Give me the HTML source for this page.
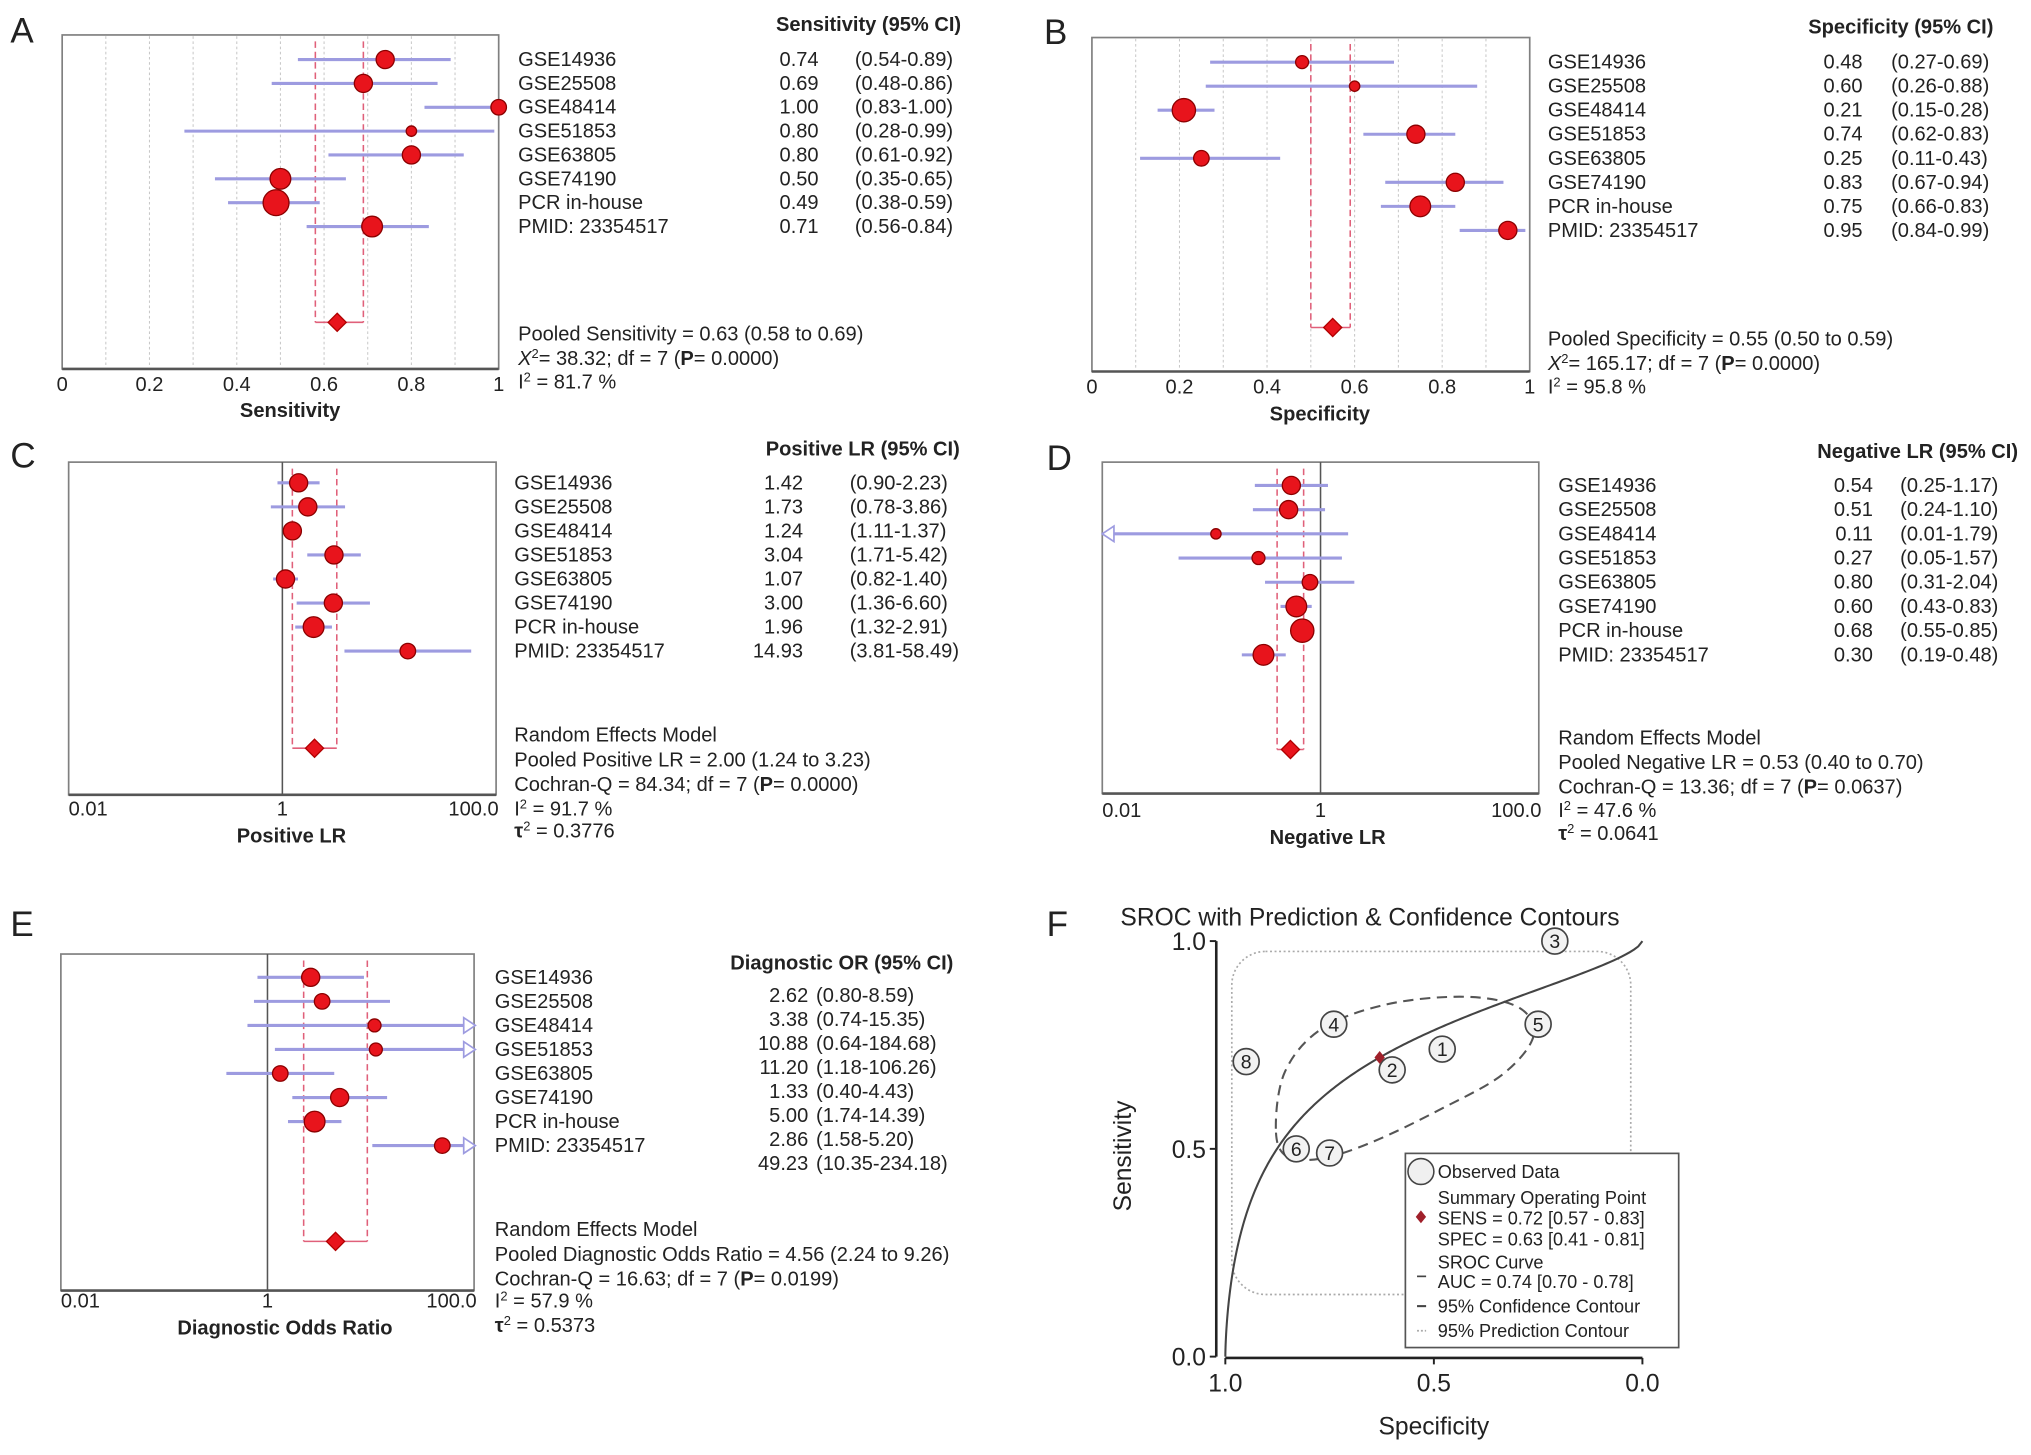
<!DOCTYPE html>
<html><head><meta charset="utf-8"><style>
html,body{margin:0;padding:0;background:#fff;}
svg{display:block;}
text{font-family:"Liberation Sans",Arial,sans-serif;fill:#222;}
</style></head><body>
<svg id="fig" xmlns="http://www.w3.org/2000/svg" width="2031" height="1455" viewBox="0 0 1568 1124" preserveAspectRatio="none">
<rect x="0" y="0" width="1568" height="1124" fill="#fff"/>
</svg>
<script>
// ---------- DATA ----------
const studies = ["GSE14936","GSE25508","GSE48414","GSE51853","GSE63805","GSE74190","PCR in-house","PMID: 23354517"];
const sensEst = [0.74,0.69,1.00,0.80,0.80,0.50,0.49,0.71];
const sensLo  = [0.54,0.48,0.83,0.28,0.61,0.35,0.38,0.56];
const sensHi  = [0.89,0.86,1.00,0.99,0.92,0.65,0.59,0.84];
const sensWeight = [7,7,6,4,7,8,10,8];
const sensPooled = [0.63,0.58,0.69];
const specEst = [0.48,0.60,0.21,0.74,0.25,0.83,0.75,0.95];
const specLo  = [0.27,0.26,0.15,0.62,0.11,0.67,0.66,0.84];
const specHi  = [0.69,0.88,0.28,0.83,0.43,0.94,0.83,0.99];
const specWeight = [5,4,9,7,6,7,8,7];
const specPooled = [0.55,0.50,0.59];
const plrEst = [1.42,1.73,1.24,3.04,1.07,3.00,1.96,14.93];
const plrLo  = [0.90,0.78,1.11,1.71,0.82,1.36,1.32,3.81];
const plrHi  = [2.23,3.86,1.37,5.42,1.40,6.60,2.91,58.49];
const plrWeight = [7,7,7,7,7,7,8,6];
const plrPooled = [2.00,1.24,3.23];
const nlrEst = [0.54,0.51,0.11,0.27,0.80,0.60,0.68,0.30];
const nlrLo  = [0.25,0.24,0.01,0.05,0.31,0.43,0.55,0.19];
const nlrHi  = [1.17,1.10,1.79,1.57,2.04,0.83,0.85,0.48];
const nlrWeight = [7,7,4,5,6,8,9,8];
const nlrPooled = [0.53,0.40,0.70];
const dorEst = [2.62,3.38,10.88,11.20,1.33,5.00,2.86,49.23];
const dorLo  = [0.80,0.74,0.64,1.18,0.40,1.74,1.58,10.35];
const dorHi  = [8.59,15.35,184.68,106.26,4.43,14.39,5.20,234.18];
const dorWeight = [7,6,5,5,6,7,8,6];
const dorPooled = [4.56,2.24,9.26];
const linTicks = [0,0.2,0.4,0.6,0.8,1];
const linTickLabels = ["0","0.2","0.4","0.6","0.8","1"];
const logTicks = [0.01,1,100];
const logTickLabels = ["0.01","1","100.0"];
// SROC
const srocA = 1.297, srocB = 0.663;
const summarySpec = 0.63, summarySens = 0.72;
const srocTicks = [0,0.5,1];
const srocTickLabels = ["0.0","0.5","1.0"];

// ---------- HELPERS ----------
const NS="http://www.w3.org/2000/svg";
const svg=document.getElementById('fig');
function mk(tag,attrs,parent){const e=document.createElementNS(NS,tag);for(const k in attrs)e.setAttribute(k,attrs[k]);(parent||svg).appendChild(e);return e;}
function txt(str,x,y,opt,parent){opt=opt||{};const e=mk('text',{x:x,y:y,'font-size':opt.size||15.5,'text-anchor':opt.anchor||'start','font-weight':opt.bold?'bold':'normal'},parent);if(opt.fill)e.setAttribute('fill',opt.fill);e.textContent=str;return e;}
function richTxt(parts,x,y,size,parent){const e=mk('text',{x:x,y:y,'font-size':size||15.5},parent);parts.forEach(p=>{const t=mk('tspan',p.a||{},e);t.textContent=p.t;});return e;}

function forest(p){
  const g=mk('g',{});
  
  
  const X=v=>{ if(p.log){const l0=Math.log10(p.min),l1=Math.log10(p.max);return p.x0+(Math.log10(v)-l0)/(l1-l0)*(p.x1-p.x0);} return p.x0+(v-p.min)/(p.max-p.min)*(p.x1-p.x0); };
  const Y=i=>p.rowY0+i*p.dy;
  const L=txt(p.letter,p.lx,p.ly,{size:27},g);
  
  
  const fr=mk('rect',{x:p.x0,y:p.top,width:p.x1-p.x0,height:p.bot-p.top,fill:'#fff',stroke:'#808080','stroke-width':1.3},g);
  
  
  const ax=mk('line',{x1:p.x0,x2:p.x1,y1:p.bot,y2:p.bot,stroke:'#555','stroke-width':2},g);
  
  
  if(p.grid){for(let k=1;k<10;k++){const v=p.min+k*(p.max-p.min)/10;const gl=mk('line',{x1:X(v),x2:X(v),y1:p.top+1,y2:p.bot-1,stroke:'#c8c8c8','stroke-width':0.8,'stroke-dasharray':'2,2'},g);
    
    }}
  if(p.log){const rl=mk('line',{x1:X(1),x2:X(1),y1:p.top,y2:p.bot,stroke:'#555','stroke-width':1.2},g);
    
    }
  const pooled=p.pooled;
  [pooled[1],pooled[2]].forEach(v=>{const dl=mk('line',{x1:X(v),x2:X(v),y1:p.top+5,y2:p.poolY,stroke:'#e0607a','stroke-width':1.2,'stroke-dasharray':'5,3'},g);
    
    });
  const br=mk('line',{x1:X(pooled[1]),x2:X(pooled[2]),y1:p.poolY,y2:p.poolY,stroke:'#e0607a','stroke-width':1.2},g);
  
  
  for(let i=0;i<p.est.length;i++){
    const lo=Math.max(p.lo[i],p.min),hi=Math.min(p.hi[i],p.max),y=Y(i);
    const cl=mk('line',{x1:X(lo),x2:X(hi),y1:y,y2:y,stroke:'#9d9be0','stroke-width':2.4},g);
    
    
    if(p.log&&p.hi[i]>p.max){const a=mk('polygon',{points:`${p.x1-8},${y-6} ${p.x1+1},${y} ${p.x1-8},${y+6}`,fill:'#fff',stroke:'#9d9be0','stroke-width':1.3},g);
      
      }
    if(p.log&&p.lo[i]<=p.min){const a=mk('polygon',{points:`${p.x0+9},${y-6} ${p.x0},${y} ${p.x0+9},${y+6}`,fill:'#fff',stroke:'#9d9be0','stroke-width':1.3},g);
      
      }
    const d=mk('circle',{cx:X(p.est[i]),cy:y,r:p.w[i],fill:'#e8141c',stroke:'#8b0000','stroke-width':1},g);
    
    
    const n=txt(studies[i],p.nameX,y+5,{},g);
    
    
    const vy=(p.valY0!==undefined?p.valY0+i*p.dy:y)+5;
    const v=txt(p.est[i].toFixed(2),p.valX,vy,{anchor:'end'},g);
    
    
    const c=txt('('+p.lo[i].toFixed(2)+'-'+p.hi[i].toFixed(2)+')',p.ciX,vy,{},g);
    
    
  }
  const px=X(pooled[0]),py=p.poolY;
  const dm=mk('polygon',{points:`${px},${py-7} ${px+7},${py} ${px},${py+7} ${px-7},${py}`,fill:'#e8141c',stroke:'#b00000','stroke-width':1},g);
  
  
  const h=txt(p.header,p.hdrX,p.hdrY,{anchor:'end',bold:true},g);
  
  
  p.ticks.forEach((t,k)=>{let anchor='middle',x=X(t);
    if(p.log&&k===0){anchor='start';x=p.x0;} if(p.log&&k===p.ticks.length-1){anchor='end';x=p.x1+2;}
    const tl=txt(p.tickLabels[k],x,p.tickY,{anchor:anchor},g);
    
    });
  const at=txt(p.axisTitle,p.titleX,p.titleY,{anchor:'middle',bold:true},g);
  
  
  p.stats.forEach((parts,k)=>{const s=richTxt(parts,p.nameX,p.statsY[k],15.5,g);
    
    });
}
const B={'font-weight':'bold'}, SUP={'baseline-shift':'super','font-size':'10'}, IT={'font-style':'italic'};
function chi(v,pv){return [{t:'X',a:IT},{t:'2',a:SUP},{t:'= '+v+'; df =  7 ('},{t:'P',a:B},{t:'= '+pv+')'}];}
function cq(v,pv){return [{t:'Cochran-Q = '+v+'; df =  7 ('},{t:'P',a:B},{t:'= '+pv+')'}];}
function i2(v){return [{t:'I'},{t:'2',a:SUP},{t:' = '+v+' %'}];}
function tau(v){return [{t:'τ',a:B},{t:'2',a:SUP},{t:' = '+v}];}

forest({name:'sensitivity',letter:'A',lx:8,ly:33,x0:48,x1:385,top:27,bot:285,min:0,max:1,log:false,grid:true,
 rowY0:46,dy:18.43,poolY:249,est:sensEst,lo:sensLo,hi:sensHi,w:sensWeight,pooled:sensPooled,
 nameX:400,valX:632,ciX:660,header:'Sensitivity (95% CI)',hdrX:742,hdrY:24,ticks:linTicks,tickLabels:linTickLabels,tickY:302,
 axisTitle:'Sensitivity',titleX:224,titleY:322,statsY:[263,282,300],
 stats:[[{t:'Pooled Sensitivity = 0.63 (0.58 to 0.69)'}],chi('38.32','0.0000'),i2('81.7')]});
forest({name:'specificity',letter:'B',lx:806,ly:34,x0:843,x1:1181,top:29,bot:287,min:0,max:1,log:false,grid:true,
 rowY0:48,dy:18.57,poolY:253,est:specEst,lo:specLo,hi:specHi,w:specWeight,pooled:specPooled,
 nameX:1195,valX:1438,ciX:1460,header:'Specificity (95% CI)',hdrX:1539,hdrY:26,ticks:linTicks,tickLabels:linTickLabels,tickY:304,
 axisTitle:'Specificity',titleX:1019,titleY:325,statsY:[267,286,304],
 stats:[[{t:'Pooled Specificity = 0.55 (0.50 to 0.59)'}],chi('165.17','0.0000'),i2('95.8')]});
forest({name:'positive-lr',letter:'C',lx:8,ly:361,x0:53,x1:383,top:357,bot:614,min:0.01,max:100,log:true,
 rowY0:373,dy:18.57,poolY:578,est:plrEst,lo:plrLo,hi:plrHi,w:plrWeight,pooled:plrPooled,
 nameX:397,valX:620,ciX:656,header:'Positive LR (95% CI)',hdrX:741,hdrY:352,ticks:logTicks,tickLabels:logTickLabels,tickY:630,
 axisTitle:'Positive LR',titleX:225,titleY:651,statsY:[573,592,611,630,647],
 stats:[[{t:'Random Effects Model'}],[{t:'Pooled Positive LR = 2.00 (1.24 to 3.23)'}],cq('84.34','0.0000'),i2('91.7'),tau('0.3776')]});
forest({name:'negative-lr',letter:'D',lx:808,ly:363,x0:851,x1:1188,top:357,bot:613,min:0.01,max:100,log:true,
 rowY0:375,dy:18.7,poolY:579,est:nlrEst,lo:nlrLo,hi:nlrHi,w:nlrWeight,pooled:nlrPooled,
 nameX:1203,valX:1446,ciX:1467,header:'Negative LR (95% CI)',hdrX:1558,hdrY:354,ticks:logTicks,tickLabels:logTickLabels,tickY:631,
 axisTitle:'Negative LR',titleX:1025,titleY:652,statsY:[575,594,613,631,649],
 stats:[[{t:'Random Effects Model'}],[{t:'Pooled Negative LR = 0.53 (0.40 to 0.70)'}],cq('13.36','0.0637'),i2('47.6'),tau('0.0641')]});
forest({name:'diagnostic-or',letter:'E',lx:8,ly:723,x0:47,x1:366,top:737,bot:997,min:0.01,max:100,log:true,
 rowY0:755,dy:18.57,valY0:769,poolY:959,est:dorEst,lo:dorLo,hi:dorHi,w:dorWeight,pooled:dorPooled,
 nameX:382,valX:624,ciX:630,header:'Diagnostic OR (95% CI)',hdrX:736,hdrY:749,ticks:logTicks,tickLabels:logTickLabels,tickY:1010,
 axisTitle:'Diagnostic Odds Ratio',titleX:220,titleY:1031,statsY:[955,974,993,1010,1029],
 stats:[[{t:'Random Effects Model'}],[{t:'Pooled Diagnostic Odds Ratio = 4.56 (2.24 to 9.26)'}],cq('16.63','0.0199'),i2('57.9'),tau('0.5373')]});

// ---------- SROC (F) ----------
(function(){
  const g=mk('g',{});
  
  
  const xS=s=>946+(1-s)*322;   // specificity axis (reversed)
  const yS=v=>1048-v*321;
  const L=txt('F',808,723,{size:27},g);
  
  
  const t=txt('SROC with Prediction & Confidence Contours',865,715,{size:19,fill:'#24336e'},g);
  
  
  const pc=mk('rect',{x:951,y:735,width:308,height:265,rx:26,ry:26,fill:'none',stroke:'#aaa','stroke-width':1.3,'stroke-dasharray':'1.5,2'},g);
  
  
  // confidence contour (smooth closed shape)
  const cp=[[985,872],[992,828],[1020,795],[1070,776],[1130,770],[1172,778],[1184,800],[1160,830],[1110,858],[1060,882],[1020,895],[993,893]];
  let cd='';const n=cp.length;
  for(let i=0;i<n;i++){const p0=cp[(i-1+n)%n],p1=cp[i],p2=cp[(i+1)%n],p3=cp[(i+2)%n];
    if(i===0)cd+='M'+p1[0]+','+p1[1];
    const c1=[p1[0]+(p2[0]-p0[0])/6,p1[1]+(p2[1]-p0[1])/6],c2=[p2[0]-(p3[0]-p1[0])/6,p2[1]-(p3[1]-p1[1])/6];
    cd+='C'+c1[0].toFixed(1)+','+c1[1].toFixed(1)+' '+c2[0].toFixed(1)+','+c2[1].toFixed(1)+' '+p2[0]+','+p2[1];}
  const ce=mk('path',{d:cd+'Z',fill:'none',stroke:'#555','stroke-width':1.6,'stroke-dasharray':'8,5'},g);
  
  
  let d='';
  for(let k=0;k<=300;k++){const f=Math.pow(k/300,3);const fpr=Math.max(f,1e-6);const lg=srocA+srocB*Math.log(fpr/(1-fpr));let s=1/(1+Math.exp(-lg));if(k===300)s=1;if(k===0)s=0;
    d+=(k?'L':'M')+xS(1-fpr).toFixed(2)+','+yS(s).toFixed(2);}
  const cv=mk('path',{d:d,fill:'none',stroke:'#444','stroke-width':1.6},g);
  
  
  const ya=mk('line',{x1:939,x2:939,y1:yS(1),y2:yS(0),stroke:'#222','stroke-width':2},g);
  
  
  const xa=mk('line',{x1:xS(1),x2:xS(0),y1:1049,y2:1049,stroke:'#222','stroke-width':2},g);
  
  
  srocTicks.forEach((v,k)=>{
    const ty=mk('line',{x1:934,x2:939,y1:yS(v),y2:yS(v),stroke:'#222','stroke-width':1.5},g);
    
    
    const yl=txt(srocTickLabels[k],931,yS(v)+7,{size:19,anchor:'end'},g);
    
    
    const tx=mk('line',{x1:xS(v),x2:xS(v),y1:1049,y2:1054,stroke:'#222','stroke-width':1.5},g);
    
    
    const xl=txt(srocTickLabels[k],xS(v),1075,{size:19,anchor:'middle'},g);
    
    
  });
  const xt=txt('Specificity',1107,1108,{size:19,anchor:'middle'},g);
  
  
  const yt=txt('Sensitivity',0,0,{size:19,anchor:'middle'},g);
  yt.setAttribute('transform','translate(873,893) rotate(-90)');
  
  
  for(let i=0;i<studies.length;i++){
    const x=xS(specEst[i]),y=yS(sensEst[i]);
    const c=mk('circle',{cx:x,cy:y,r:10,fill:'#f2f2f2',stroke:'#444','stroke-width':1.3},g);
    
    
    const nl=txt(String(i+1),x,y+5.5,{size:15,anchor:'middle'},g);
    
    
  }
  const sx=xS(summarySpec),sy=yS(summarySens);
  const sp=mk('polygon',{points:`${sx},${sy-5} ${sx+4},${sy} ${sx},${sy+5} ${sx-4},${sy}`,fill:'#a0202a'},g);
  
  
  const lg=mk('g',{},g);
  
  
  const lb=mk('rect',{x:1085,y:891,width:211,height:150,fill:'#fff',stroke:'#555','stroke-width':1.3},lg);
  
  
  const lc=mk('circle',{cx:1097,cy:905,r:10,fill:'#f0f0f0',stroke:'#444','stroke-width':1.2},lg);
  
  
  const ld=mk('polygon',{points:'1097,935 1101,940 1097,945 1093,940',fill:'#a0202a'},lg);
  
  
  const l1=mk('line',{x1:1094,x2:1101,y1:986,y2:986,stroke:'#444','stroke-width':1.3},lg);
  
  
  const l2=mk('line',{x1:1094,x2:1101,y1:1009,y2:1009,stroke:'#444','stroke-width':1.6},lg);
  
  
  const l3=mk('line',{x1:1094,x2:1101,y1:1028,y2:1028,stroke:'#aaa','stroke-width':1.3,'stroke-dasharray':'1.5,1.5'},lg);
  
  
  const lt=[['Observed Data',910],['Summary Operating Point',930],['SENS = 0.72 [0.57 - 0.83]',946],['SPEC = 0.63 [0.41 - 0.81]',962],['SROC Curve',980],['AUC = 0.74 [0.70 - 0.78]',995],['95% Confidence Contour',1014],['95% Prediction Contour',1033]];
  lt.forEach(a=>{const e=txt(a[0],1110,a[1],{size:14},lg);
    
    });
})();
</script>
</body></html>
